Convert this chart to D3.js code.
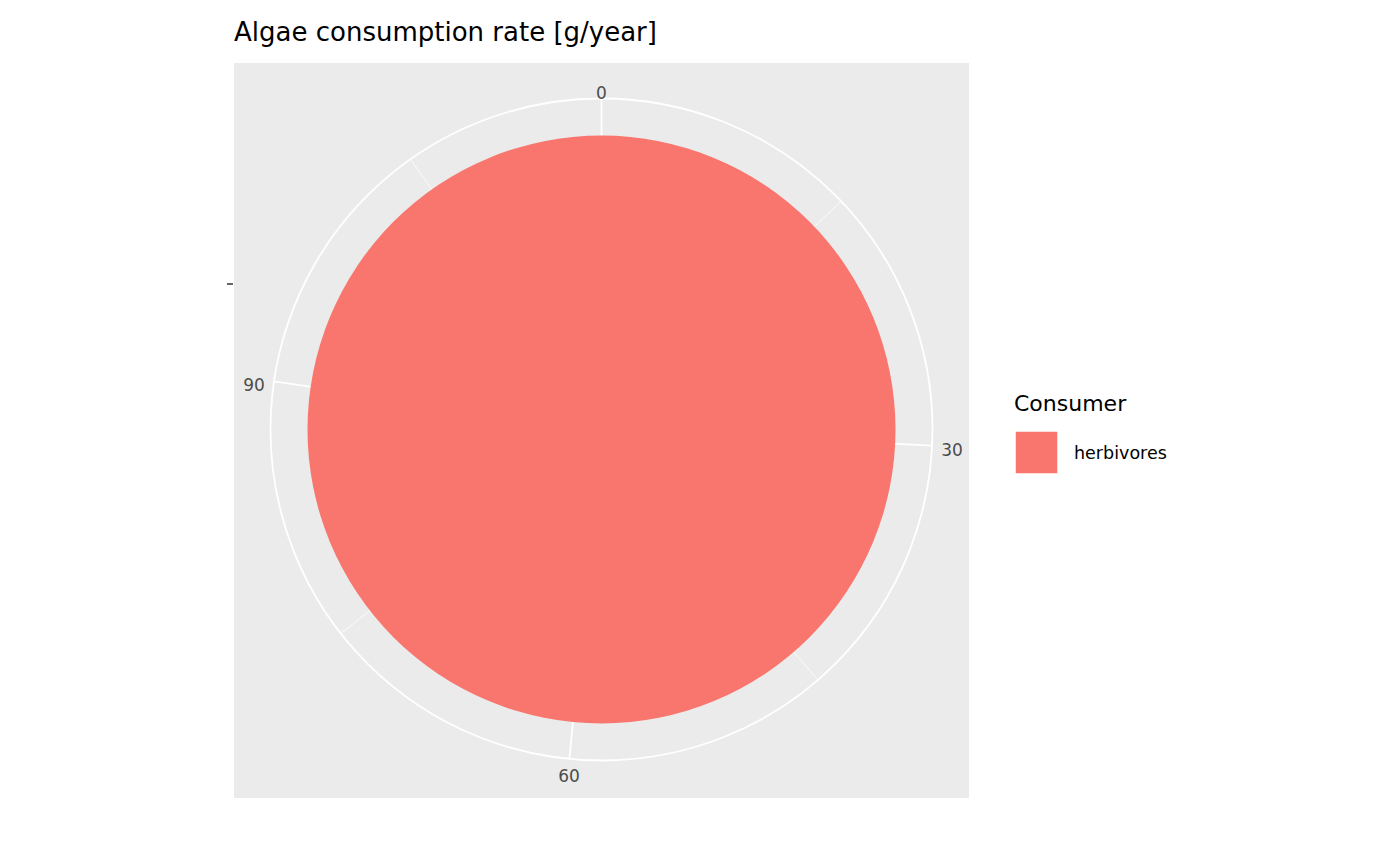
<!DOCTYPE html>
<html>
<head>
<meta charset="utf-8">
<script src="https://cdn.jsdelivr.net/npm/d3@7"></script>
<style>body{margin:0;background:#fff;} text{font-family:"DejaVu Sans",sans-serif;}</style>
</head>
<body>
<script>
// Data
const consumers = ["herbivores"];
const rates = [116.4];
const angleTicks = [0, 30, 60, 90];
const minorTicks = [15, 45, 75, 105];

let width = 1400, height = 866;
const panel = { x: 234, y: 63, w: 735, h: 735 };
const cx = panel.x + panel.w / 2, cy = panel.y + panel.h / 2 - 1;
const outerR = 331, pieR = 294;

const svg = d3.select('body').append('svg')
    .attr('width', width).attr('height', height);

const total = d3.sum(rates);
const angle = d3.scaleLinear().domain([0, total]).range([0, 2 * Math.PI]);
const color = d3.scaleOrdinal().domain(consumers).range(["#F8766D", "#00BFC4"]);

// Panel background
svg.append('rect')
   .attr('x', panel.x).attr('y', panel.y)
   .attr('width', panel.w).attr('height', panel.h)
   .attr('fill', '#EBEBEB');

const g = svg.append('g').attr('transform', `translate(${cx},${cy})`);

// Grid lines (spokes)
const spoke = (v, w) => {
    const a = angle(v);
    g.append('line')
     .attr('x1', 0).attr('y1', 0)
     .attr('x2', outerR * Math.sin(a)).attr('y2', -outerR * Math.cos(a))
     .attr('stroke', 'white').attr('stroke-width', w);
};
minorTicks.forEach(v => spoke(v, 0.8));
angleTicks.forEach(v => spoke(v, 1.8));

g.append('circle').attr('r', outerR)
 .attr('fill', 'none').attr('stroke', 'white').attr('stroke-width', 1.8);

// Pie slices
const pie = d3.pie().sort(null).value(d => d.value)
    .startAngle(0).endAngle(angle(total));
const arc = d3.arc().innerRadius(0).outerRadius(pieR);
g.selectAll('path.slice')
 .data(pie(consumers.map((c, i) => ({ key: c, value: rates[i] }))))
 .enter().append('path')
 .attr('d', arc)
 .attr('fill', d => color(d.data.key));

// Angle tick labels
angleTicks.forEach(v => {
    const a = angle(v), r = outerR + 4;
    const s = Math.sin(a), c = Math.cos(a);
    g.append('text')
     .attr('x', r * s + (s > 0.3 ? 16 : s < -0.3 ? -16 : 0))
     .attr('y', -r * c + (c > 0.3 ? -1 : c < -0.3 ? 14 : 5))
     .attr('text-anchor', 'middle')
     .attr('dominant-baseline', 'middle')
     .attr('font-size', 17).attr('fill', '#4D4D4D')
     .text(v);
});

// Empty y axis tick
svg.append('line')
   .attr('x1', 227).attr('x2', 233).attr('y1', 284).attr('y2', 284)
   .attr('stroke', '#333').attr('stroke-width', 1.5);

// Title
svg.append('text')
   .attr('x', panel.x).attr('y', 41)
   .attr('font-size', 26).attr('fill', '#000')
   .text('Algae consumption rate [g/year]');

// Legend
const legend = svg.append('g').attr('transform', 'translate(1014,0)');
legend.append('text').attr('x', 0).attr('y', 411)
      .attr('font-size', 22).text('Consumer');
consumers.forEach((c, i) => {
    legend.append('rect')
          .attr('x', 1).attr('y', 431 + i * 46)
          .attr('width', 43).attr('height', 43)
          .attr('fill', color(c)).attr('stroke', 'white').attr('stroke-width', 1.5);
    legend.append('text').attr('x', 60).attr('y', 459 + i * 46)
          .attr('font-size', 17.5).text(c);
});
</script>
</body>
</html>
